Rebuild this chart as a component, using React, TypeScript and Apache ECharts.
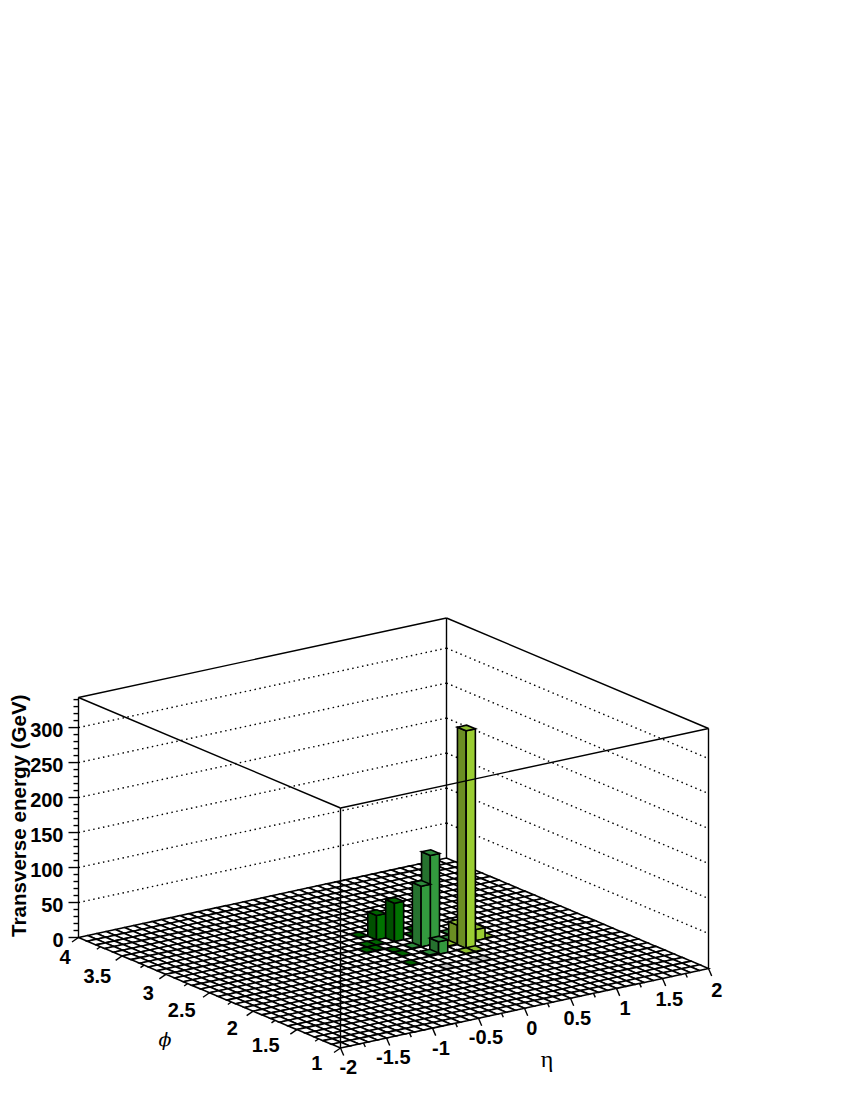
import React, { useEffect, useRef } from "react";
import * as echarts from "echarts";

// Histogram binning
const ETA_MIN = -2, ETA_MAX = 2, ETA_BINS = 40;
const PHI_MIN = 1, PHI_MAX = 4, PHI_BINS = 30;
const Z_MAX = 343;

// Tick labels
const zTicks = [0, 50, 100, 150, 200, 250, 300];
const zLabels = ["0", "50", "100", "150", "200", "250", "300"];
const etaLabels = ["-2", "-1.5", "-1", "-0.5", "0", "0.5", "1", "1.5", "2"];
const phiLabels = ["1", "1.5", "2", "2.5", "3", "3.5", "4"];

// Non-empty bins: eta bin index, phi bin index, energy in GeV, cluster
const cellEta = [26, 24, 23, 22, 21, 23, 26, 28, 20, 19, 20, 19, 18, 20, 20, 19, 25, 24, 27, 26, 22, 22, 25, 26, 29, 25, 21, 24, 25];
const cellPhi = [13, 15, 15, 17, 18, 13, 14, 14, 19, 17, 17, 16, 16, 15, 14, 12, 18, 17, 16, 15, 13, 15, 12, 12, 14, 14, 10, 10, 10];
const cellEnergy = [311, 128, 87, 55, 35, 18, 28, 16, 1, 1, 1, 1, 1, 1, 1, 1, 1, 1, 1, 1, 2, 1, 1, 1, 1, 1, 0.5, 0.5, 0.5];
const cellCluster = [2, 1, 1, 0, 0, 1, 2, 2, 0, 0, 0, 0, 0, 0, 0, 0, 0, 0, 1, 1, 1, 1, 2, 2, 2, 2, 3, 3, 3];

// Cluster palette: top, left face, right face
const topColors = ["#006400", "#2e8b3c", "#8fc031", "#c8c8c8"];
const leftColors = ["#005000", "#26722f", "#6b8e23", "#a8a8a8"];
const rightColors = ["#007200", "#339a3e", "#9acd32", "#d8d8d8"];

// Box corners on the page
const ORIGIN = [340.5, 1048];
const ETA_VEC = [368, -79.5];
const PHI_VEC = [-262, -110.5];
const Z_PIXELS = 240;

function project(eta: number, phi: number, z: number): number[] {
  const u = (eta - ETA_MIN) / (ETA_MAX - ETA_MIN);
  const v = (phi - PHI_MIN) / (PHI_MAX - PHI_MIN);
  return [
    ORIGIN[0] + u * ETA_VEC[0] + v * PHI_VEC[0],
    ORIGIN[1] + u * ETA_VEC[1] + v * PHI_VEC[1] - (z / Z_MAX) * Z_PIXELS,
  ];
}

const binEta = (i: number) => ETA_MIN + (i * (ETA_MAX - ETA_MIN)) / ETA_BINS;
const binPhi = (j: number) => PHI_MIN + (j * (PHI_MAX - PHI_MIN)) / PHI_BINS;

function buildCells(): number[][] {
  const cells: number[][] = [];
  for (let i = 0; i < ETA_BINS; i++) {
    for (let j = 0; j < PHI_BINS; j++) cells.push([i, j, 0, -1]);
  }
  cellEta.forEach((i, k) => {
    cells[i * PHI_BINS + cellPhi[k]] = [i, cellPhi[k], cellEnergy[k], cellCluster[k]];
  });
  // painter's order: farthest corner (eta max, phi max) first
  return cells.sort((a, b) => b[0] + b[1] - (a[0] + a[1]));
}

function poly(points: number[][], fill: string | null, stroke = "#000", lineWidth = 1.6) {
  return {
    type: "polygon",
    shape: { points },
    style: { fill: fill ?? "none", stroke, lineWidth },
  };
}

function line(a: number[], b: number[], dash?: number[]) {
  return {
    type: "line",
    shape: { x1: a[0], y1: a[1], x2: b[0], y2: b[1] },
    style: { stroke: "#000", lineWidth: 1.4, lineDash: dash, fill: "none" },
  };
}

function label(text: string, x: number, y: number, extra: any = {}) {
  return {
    type: "text",
    x,
    y,
    rotation: extra.rotation ?? 0,
    style: {
      text,
      fill: "#000",
      font: extra.font ?? 'bold 20px "Liberation Sans"',
      align: extra.align ?? "center",
      verticalAlign: "middle",
    },
  };
}

function renderCell(_: any, api: any) {
  const i = api.value(0), j = api.value(1), e = api.value(2), c = api.value(3);
  const e0 = binEta(i), e1 = binEta(i + 1), p0 = binPhi(j), p1 = binPhi(j + 1);
  if (e <= 0) {
    return poly(
      [project(e0, p0, 0), project(e1, p0, 0), project(e1, p1, 0), project(e0, p1, 0)],
      "#fff"
    );
  }
  return {
    type: "group",
    children: [
      poly(
        [project(e0, p0, 0), project(e0, p1, 0), project(e0, p1, e), project(e0, p0, e)],
        leftColors[c]
      ),
      poly(
        [project(e0, p0, 0), project(e1, p0, 0), project(e1, p0, e), project(e0, p0, e)],
        rightColors[c]
      ),
      poly(
        [project(e0, p0, e), project(e1, p0, e), project(e1, p1, e), project(e0, p1, e)],
        topColors[c]
      ),
    ],
  };
}

function backFrame() {
  const children: any[] = [];
  const corners = [
    [ETA_MIN, PHI_MAX],
    [ETA_MAX, PHI_MAX],
    [ETA_MAX, PHI_MIN],
  ];
  zTicks.slice(1).forEach((z) => {
    children.push(line(project(corners[0][0], corners[0][1], z), project(corners[1][0], corners[1][1], z), [1.5, 3.5]));
    children.push(line(project(corners[1][0], corners[1][1], z), project(corners[2][0], corners[2][1], z), [1.5, 3.5]));
  });
  corners.forEach((c) => children.push(line(project(c[0], c[1], 0), project(c[0], c[1], Z_MAX))));
  children.push(line(project(corners[0][0], corners[0][1], Z_MAX), project(corners[1][0], corners[1][1], Z_MAX)));
  children.push(line(project(corners[1][0], corners[1][1], Z_MAX), project(corners[2][0], corners[2][1], Z_MAX)));
  return { type: "group", children };
}

function frontFrame() {
  const children: any[] = [];
  const front = [ETA_MIN, PHI_MIN];
  const left = [ETA_MIN, PHI_MAX];
  const right = [ETA_MAX, PHI_MIN];
  const topFront = project(front[0], front[1], Z_MAX);
  children.push(line(project(front[0], front[1], 0), topFront));
  children.push(line(topFront, project(left[0], left[1], Z_MAX)));
  children.push(line(topFront, project(right[0], right[1], Z_MAX)));
  for (let z = 0; z <= Z_MAX; z += 10) {
    const p = project(left[0], left[1], z);
    children.push(line(p, [p[0] - (z % 50 === 0 ? 10 : 5), p[1]]));
  }
  for (let k = 0; k <= 16; k++) {
    const p = project(ETA_MIN + k * 0.25, PHI_MIN, 0);
    const major = k % 2 === 0;
    children.push(line(p, [p[0] + (major ? 3.2 : 1.8), p[1] + (major ? 7.5 : 4)]));
  }
  for (let k = 0; k <= 12; k++) {
    const p = project(ETA_MIN, PHI_MIN + k * 0.25, 0);
    const major = k % 2 === 0;
    children.push(line(p, [p[0] - (major ? 6.5 : 3.5), p[1] + (major ? 4.5 : 2.5)]));
  }
  return { type: "group", children };
}

// Label anchors on the page
const etaLabelPos = [[348.3, 1067], [393.3, 1057], [441, 1047.5], [486, 1037], [531.7, 1028], [577.3, 1017.5], [625, 1008], [669.3, 998.5], [716.7, 989.5]];
const phiLabelPos = [[316.7, 1063], [265.7, 1044.5], [232.3, 1028], [181.7, 1009.5], [148.3, 993], [97.3, 975.5], [65, 957]];

function labels() {
  const children: any[] = [];
  zLabels.forEach((t, k) => {
    const p = project(ETA_MIN, PHI_MAX, zTicks[k]);
    children.push(label(t, 63.5, p[1] + 2, { align: "right" }));
  });
  etaLabels.forEach((t, k) => children.push(label(t, etaLabelPos[k][0], etaLabelPos[k][1])));
  phiLabels.forEach((t, k) => children.push(label(t, phiLabelPos[k][0], phiLabelPos[k][1])));
  children.push(label("Transverse energy (GeV)", 18.5, 937, { rotation: Math.PI / 2, align: "left", font: 'bold 20.6px "Liberation Sans"' }));
  children.push(label("η", 547, 1059, { font: '24px "Liberation Serif"' }));
  children.push(label("ϕ", 165, 1039, { font: 'italic 19px "DejaVu Serif"' }));
  return { type: "group", children };
}

const customLayer = (name: string, render: any, data: any[] = [[0]]) => ({
  type: "custom",
  name,
  coordinateSystem: "none",
  silent: true,
  data,
  renderItem: render,
});

export default function App() {
  const ref = useRef<HTMLDivElement>(null);
  useEffect(() => {
    const chart = echarts.init(ref.current!, null, { renderer: "svg" });
    chart.setOption({
      animation: false,
      backgroundColor: "#fff",
      series: [
        customLayer("back", backFrame),
        customLayer("bins", renderCell, buildCells()),
        customLayer("front", frontFrame),
        customLayer("labels", labels),
      ],
    });
    return () => chart.dispose();
  }, []);
  return <div ref={ref} style={{ position: "absolute", left: 0, top: 0, width: 850, height: 1100 }} />;
}
